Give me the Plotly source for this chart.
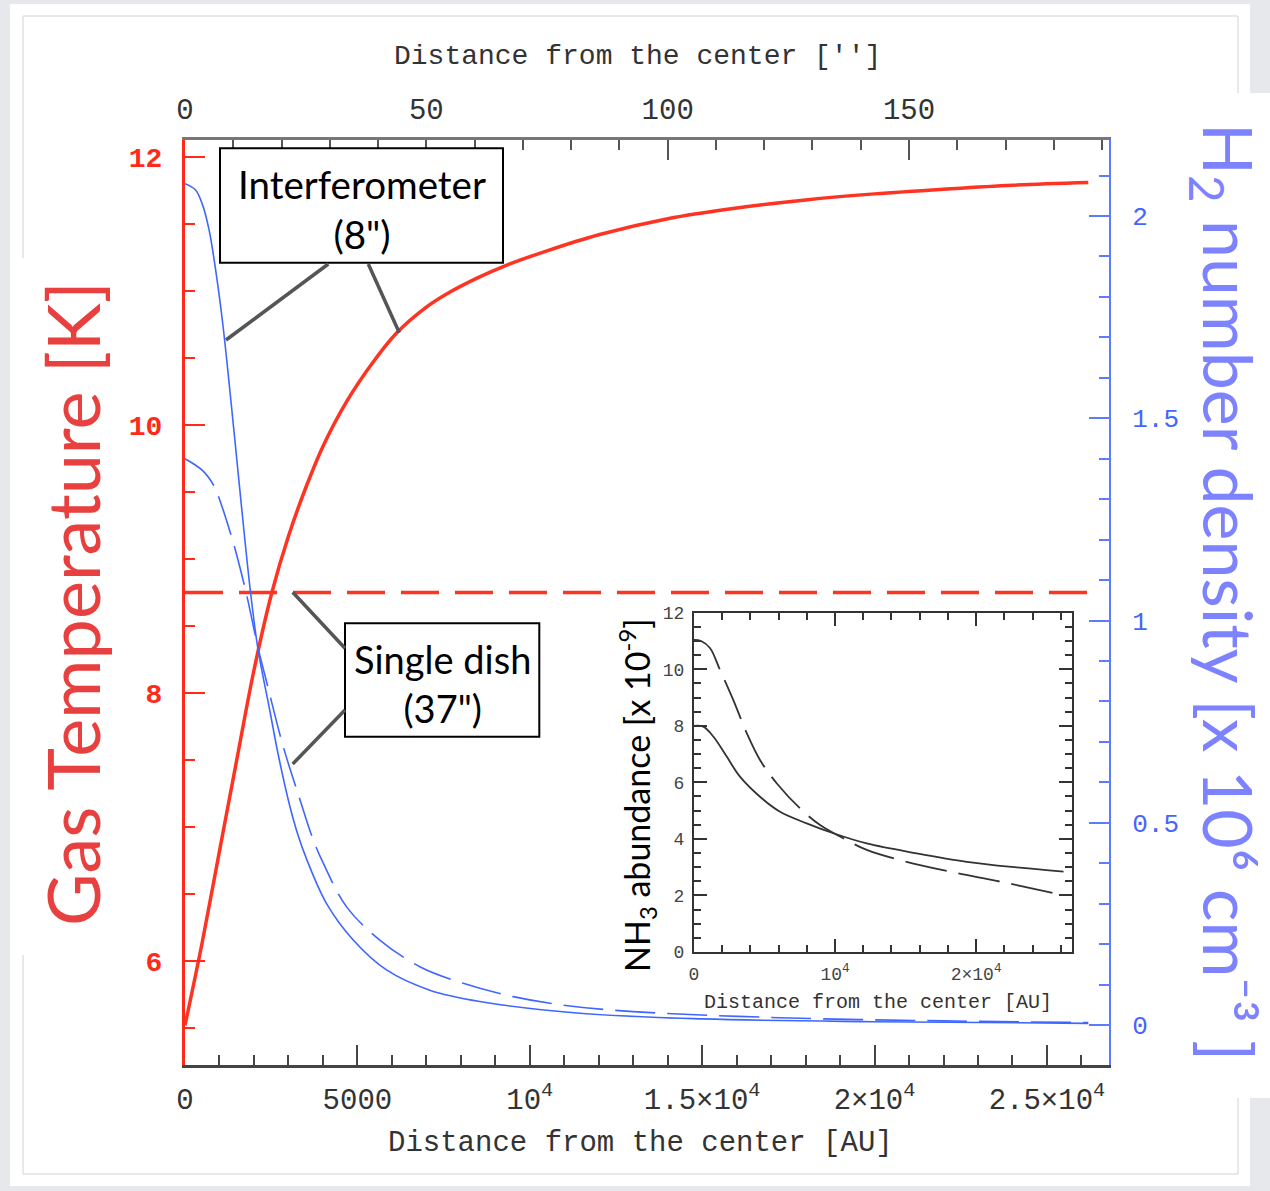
import plotly.graph_objects as go

W, H = 1270, 1191
MONO = "Liberation Mono"
SANS = "Lato"

# ---------------- data ----------------
AU_PER_ARCSEC = 140

# Gas temperature [K], interferometer (solid red)
au_t_int = [0, 500, 1000, 1500, 2000, 2520, 3000, 3500, 4000, 4700, 5400, 6150, 7000, 7600,
            8500, 9300, 10500, 12000, 14000, 16000, 18000, 20000, 22000, 24000, 26200]
t_int = [5.52, 6.14, 6.82, 7.50, 8.17, 8.75, 9.17, 9.53, 9.84, 10.18, 10.45, 10.69, 10.88, 10.98,
         11.10, 11.19, 11.30, 11.42, 11.54, 11.62, 11.68, 11.725, 11.76, 11.79, 11.81]

# Gas temperature [K], single dish (dashed red)
au_t_sd = [0, 26200]
t_sd = [8.75, 8.75]

# H2 number density [1e6 cm-3], interferometer (solid blue)
au_n_int = [0, 300, 500, 700, 900, 1100, 1300, 1500, 1700, 1900, 2116, 2454, 2700, 3043,
            3275, 3527, 4106, 4880, 5845, 7100, 8550, 11450, 15000, 20000, 26200]
n_int = [2.08, 2.065, 2.03, 1.965, 1.86, 1.73, 1.57, 1.40, 1.23, 1.07, 0.93, 0.78, 0.67, 0.54,
         0.47, 0.41, 0.30, 0.21, 0.136, 0.086, 0.058, 0.029, 0.015, 0.008, 0.004]

# H2 number density [1e6 cm-3], single dish (dashed blue)
au_n_sd = [0, 520, 860, 1000, 1340, 1490, 1780, 2116, 2406, 2840, 3323, 3710, 4010, 4686,
           5650, 6810, 8070, 9520, 10970, 13000, 17230, 22000, 26200]
n_sd = [1.40, 1.37, 1.33, 1.30, 1.21, 1.165, 1.066, 0.934, 0.835, 0.691, 0.56, 0.46, 0.40,
        0.292, 0.21, 0.144, 0.103, 0.070, 0.049, 0.033, 0.018, 0.010, 0.006]

# Inset: NH3 abundance [1e-9]
au_x_int = [0, 660, 1370, 2320, 3260, 4680, 6100, 7990, 9880, 12250, 15790, 19340, 22890, 26200]
x_int = [8.0, 7.97, 7.62, 6.91, 6.20, 5.49, 4.96, 4.55, 4.20, 3.84, 3.49, 3.19, 2.99, 2.84]
au_x_sd = [0, 500, 1130, 1840, 2790, 3740, 4680, 5860, 7520, 8940, 10590, 12250, 14610,
           18160, 21700, 25480, 26200]
x_sd = [11.04, 11.0, 10.75, 9.98, 8.91, 7.74, 6.79, 5.97, 5.08, 4.49, 4.02, 3.61, 3.25,
        2.84, 2.49, 2.08, 2.0]

# tick labels
au_tickvals = [0, 5000, 10000, 15000, 20000, 25000]
au_ticktext = ["0", "5000", "10<sup>4</sup>", "1.5×10<sup>4</sup>", "2×10<sup>4</sup>", "2.5×10<sup>4</sup>"]
inset_tickvals = [0, 10000, 20000]
inset_ticktext = ["0", "10<sup>4</sup>", "2×10<sup>4</sup>"]

# ---------------- colours ----------------
RED = "#ff3322"
RED_AX = "#ff2a1a"
RED_TITLE = "#e8403f"
BLUE = "#3f66ff"
BLUE_AX = "#5b7cff"
BLUE_TITLE = "#7d83ff"
DARK = "#333333"


def px(x):
    return x / W


def py(y):
    return 1 - y / H


SPL = dict(shape="spline", smoothing=1.0)

fig = go.Figure()

fig.add_trace(go.Scatter(x=au_t_int, y=t_int, xaxis="x", yaxis="y", mode="lines",
                         line=dict(color=RED, width=3.5, **SPL),
                         showlegend=False, hoverinfo="skip"))
fig.add_trace(go.Scatter(x=au_t_sd, y=t_sd, xaxis="x", yaxis="y", mode="lines",
                         line=dict(color=RED, width=3.5, dash="38px,16px"),
                         showlegend=False, hoverinfo="skip"))
fig.add_trace(go.Scatter(x=au_n_int, y=n_int, xaxis="x", yaxis="y2", mode="lines",
                         line=dict(color=BLUE, width=1.6, **SPL),
                         showlegend=False, hoverinfo="skip"))
fig.add_trace(go.Scatter(x=au_n_sd, y=n_sd, xaxis="x", yaxis="y2", mode="lines",
                         line=dict(color=BLUE, width=1.6, dash="40px,12px", **SPL),
                         showlegend=False, hoverinfo="skip"))
# invisible trace to carry the top (arcsec) axis
fig.add_trace(go.Scatter(x=[a / AU_PER_ARCSEC for a in au_t_int], y=t_int, xaxis="x2", yaxis="y",
                         mode="lines", line=dict(color="rgba(0,0,0,0)", width=0),
                         showlegend=False, hoverinfo="skip"))
# inset
fig.add_trace(go.Scatter(x=au_x_int, y=x_int, xaxis="x3", yaxis="y3", mode="lines",
                         line=dict(color=DARK, width=1.8, **SPL),
                         showlegend=False, hoverinfo="skip"))
fig.add_trace(go.Scatter(x=au_x_sd, y=x_sd, xaxis="x3", yaxis="y3", mode="lines",
                         line=dict(color=DARK, width=1.8, dash="42px,12px", **SPL),
                         showlegend=False, hoverinfo="skip"))

x_max = 26800

fig.update_layout(
    width=W, height=H,
    margin=dict(l=0, r=0, t=0, b=0),
    paper_bgcolor="#e6e8eb",
    plot_bgcolor="white",
    xaxis=dict(domain=[px(185), px(1109)], range=[0, x_max], anchor="y",
               showline=True, linecolor="#444", linewidth=2.5,
               ticks="inside", ticklen=20, tickwidth=1.5, tickcolor="#444",
               tickvals=au_tickvals, ticktext=au_ticktext,
               tickfont=dict(family=MONO, size=29, color=DARK),
               minor=dict(dtick=1000, ticklen=10, tickwidth=1.5, tickcolor="#444",
                          ticks="inside", showgrid=False),
               showgrid=False, zeroline=False, ticklabelstandoff=6, automargin=False),
    xaxis2=dict(overlaying="x", side="top", anchor="y", range=[0, x_max / AU_PER_ARCSEC],
                showline=True, linecolor="#777", linewidth=3,
                ticks="inside", ticklen=20, tickwidth=1.5, tickcolor="#555",
                dtick=50, tick0=0,
                tickfont=dict(family=MONO, size=29, color=DARK),
                minor=dict(dtick=10, ticklen=10, tickwidth=1.5, tickcolor="#555",
                           ticks="inside", showgrid=False),
                showgrid=False, zeroline=False, ticklabelstandoff=6, automargin=False),
    yaxis=dict(domain=[py(1065), py(140)], range=[5.224, 12.127], anchor="x",
               showline=True, linecolor=RED_AX, linewidth=3,
               ticks="inside", ticklen=20, tickwidth=2, tickcolor=RED_AX,
               dtick=2, tick0=0,
               tickfont=dict(family=MONO, size=28, color=RED_AX, weight="bold"),
               minor=dict(dtick=0.5, ticklen=10, tickwidth=2, tickcolor=RED_AX,
                          ticks="inside", showgrid=False),
               showgrid=False, zeroline=False, ticklabelstandoff=14, automargin=False),
    yaxis2=dict(overlaying="y", side="right", anchor="x", range=[-0.099, 2.188],
                showline=True, linecolor=BLUE_AX, linewidth=2,
                ticks="inside", ticklen=20, tickwidth=1.5, tickcolor=BLUE_AX,
                dtick=0.5, tick0=0,
                tickfont=dict(family=MONO, size=26, color="#4466ff"),
                minor=dict(dtick=0.1, ticklen=10, tickwidth=1.5, tickcolor=BLUE_AX,
                           ticks="inside", showgrid=False),
                showgrid=False, zeroline=False, ticklabelstandoff=16, automargin=False),
    xaxis3=dict(domain=[px(694), px(1072)], anchor="y3", range=[0, x_max],
                showline=True, mirror="ticks", linecolor=DARK, linewidth=2,
                ticks="inside", ticklen=13, tickwidth=1.5, tickcolor=DARK,
                tickvals=inset_tickvals, ticktext=inset_ticktext,
                tickfont=dict(family=MONO, size=18, color="#444"),
                minor=dict(dtick=2000, ticklen=7, tickwidth=1.5, tickcolor=DARK,
                           ticks="inside", showgrid=False),
                showgrid=False, zeroline=False, ticklabelstandoff=4, automargin=False),
    yaxis3=dict(domain=[py(952), py(612.7)], anchor="x3", range=[0, 12],
                showline=True, mirror="ticks", linecolor=DARK, linewidth=2,
                ticks="inside", ticklen=13, tickwidth=1.5, tickcolor=DARK,
                dtick=2, tick0=0,
                tickfont=dict(family=MONO, size=18, color="#444"),
                minor=dict(dtick=0.5, ticklen=7, tickwidth=1.5, tickcolor=DARK,
                           ticks="inside", showgrid=False),
                showgrid=False, zeroline=False, ticklabelstandoff=4, automargin=False),
)

shapes = []
# slide panel and frame
shapes.append(dict(type="rect", xref="paper", yref="paper", x0=px(10), x1=px(1250),
                   y0=py(1186), y1=py(4), fillcolor="white", line=dict(width=0), layer="below"))
shapes.append(dict(type="rect", xref="paper", yref="paper", x0=px(23), x1=px(1238),
                   y0=py(1174), y1=py(16), fillcolor="rgba(0,0,0,0)",
                   line=dict(color="#d2d2d2", width=1), layer="below"))
# white boxes behind the big axis titles
shapes.append(dict(type="rect", xref="paper", yref="paper", x0=px(10), x1=px(122),
                   y0=py(955), y1=py(258), fillcolor="white", line=dict(width=0), layer="below"))
shapes.append(dict(type="rect", xref="paper", yref="paper", x0=px(1180), x1=px(1270),
                   y0=py(1098), y1=py(93), fillcolor="white", line=dict(width=0), layer="below"))
# callout boxes
shapes.append(dict(type="rect", xref="paper", yref="paper", x0=px(220), x1=px(503),
                   y0=py(262.7), y1=py(148.3), fillcolor="white",
                   line=dict(color="black", width=2)))
shapes.append(dict(type="rect", xref="paper", yref="paper", x0=px(345), x1=px(539.3),
                   y0=py(736.7), y1=py(623.3), fillcolor="white",
                   line=dict(color="black", width=2)))
# leader lines
for (x0, y0, x1, y1) in [(328.3, 264, 226, 340), (368.3, 264, 399.3, 332.7),
                         (345, 648.3, 292.7, 592.3), (345, 710, 292.7, 764)]:
    shapes.append(dict(type="line", xref="paper", yref="paper", x0=px(x0), y0=py(y0),
                       x1=px(x1), y1=py(y1), line=dict(color="#555555", width=3.5)))

annotations = [
    dict(text="Gas Temperature [K]", x=px(72), y=py(604), textangle=-90,
         font=dict(family=SANS, size=72, color=RED_TITLE)),
    dict(text="H<sub>2</sub> number density [x 10⁶ cm⁻³ ]",
         x=px(1224), y=py(592), textangle=90,
         font=dict(family=SANS + ", Noto Sans", size=68, color=BLUE_TITLE)),
    dict(text="Distance from the center [AU]", x=px(640), y=py(1143),
         font=dict(family=MONO, size=29, color=DARK)),
    dict(text="Distance from the center ['']", x=px(638), y=py(57),
         font=dict(family=MONO, size=28, color=DARK)),
    dict(text="Interferometer<br>(8\")", x=px(361.5), y=py(209),
         font=dict(family=SANS, size=38.5, color="black")),
    dict(text="Single dish<br>(37\")", x=px(442), y=py(683),
         font=dict(family=SANS, size=38, color="black")),
    dict(text="NH<sub>3</sub> abundance [x 10<sup>-9</sup>]", x=px(637), y=py(795),
         textangle=-90, font=dict(family=SANS, size=34, color="black")),
    dict(text="Distance from the center [AU]", x=px(878), y=py(1002),
         font=dict(family=MONO, size=20, color=DARK)),
]
for a in annotations:
    a.update(xref="paper", yref="paper", showarrow=False, xanchor="center", yanchor="middle")

fig.update_layout(shapes=shapes, annotations=annotations)

fig.write_html(
    "out.html",
    config={"displayModeBar": False},
    post_script="document.body.style.margin='0';document.body.style.overflow='hidden';",
)
